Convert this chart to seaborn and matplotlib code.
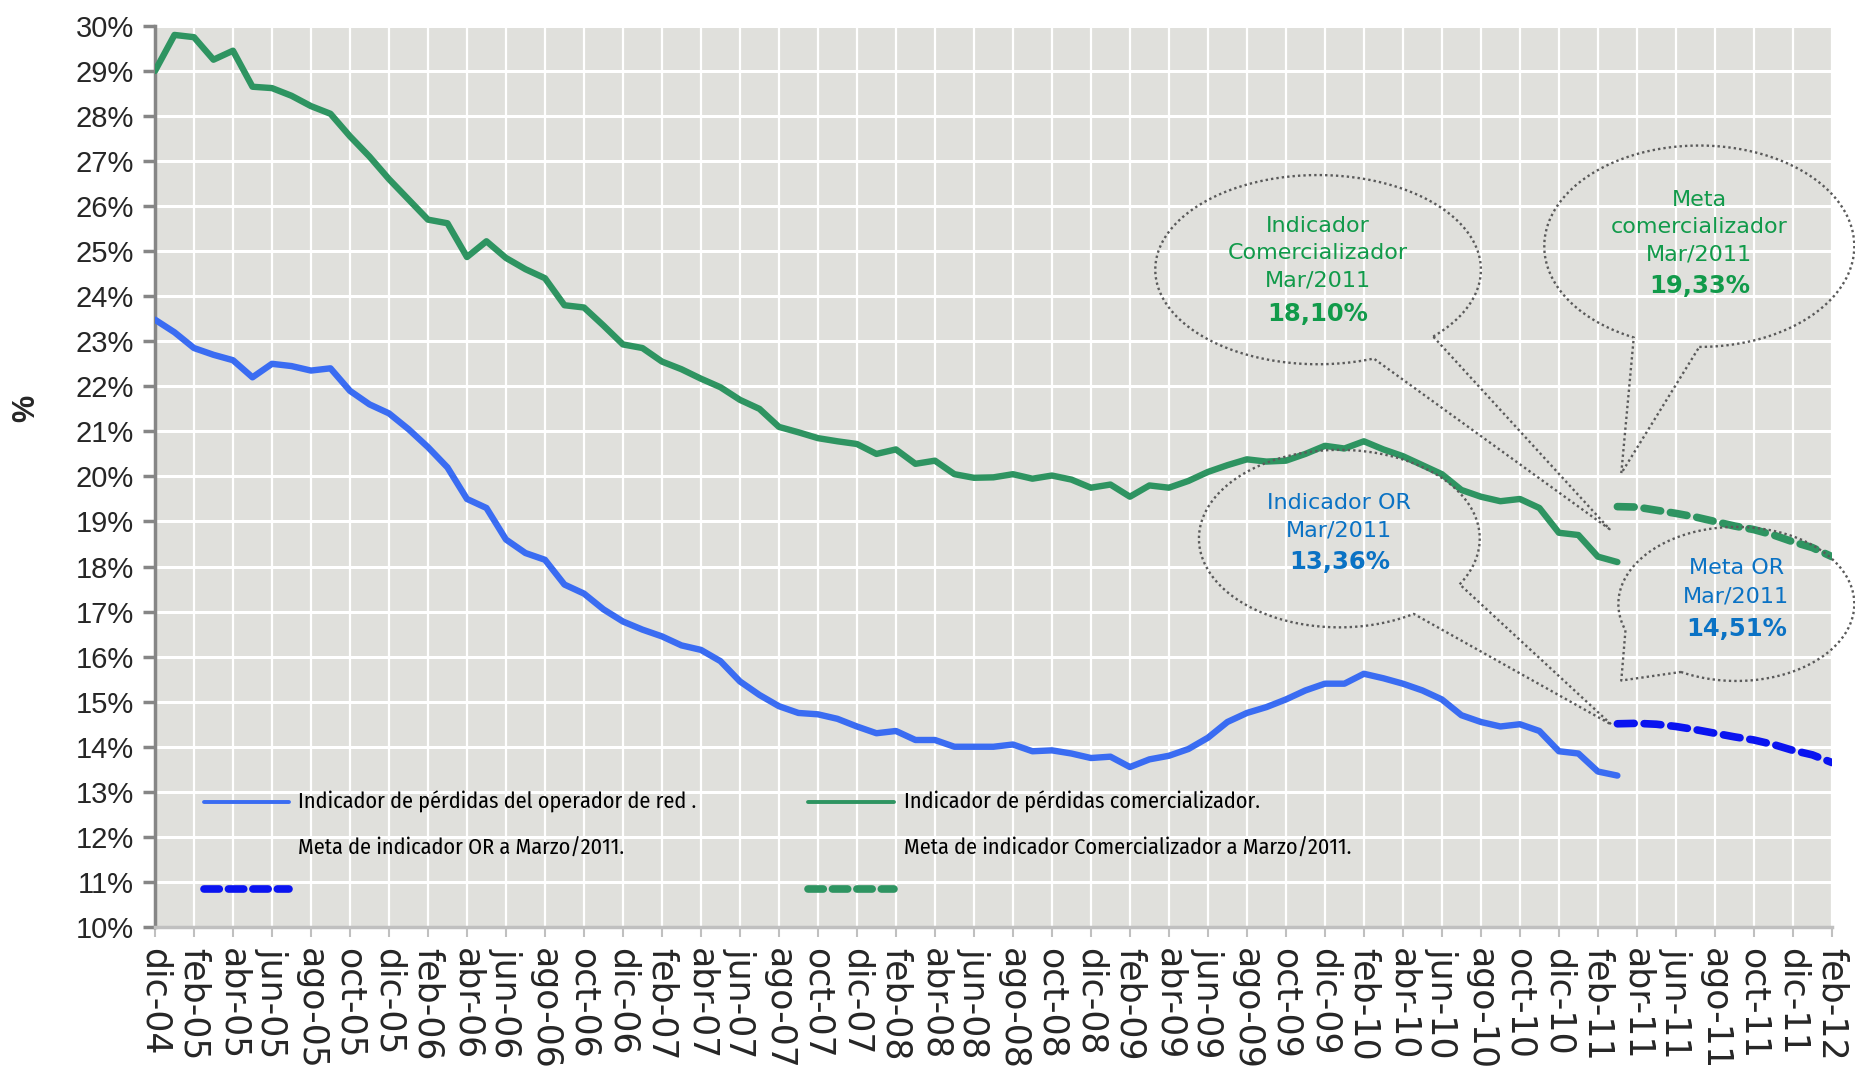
import numpy as np
import pandas as pd
import matplotlib
matplotlib.use('Agg')
import matplotlib.pyplot as plt
from matplotlib.lines import Line2D
import seaborn as sns

# =============================================
# Data, monthly from dic-04
month_names = ['ene', 'feb', 'mar', 'abr', 'may', 'jun', 'jul', 'ago', 'sep', 'oct', 'nov', 'dic']

or_actual = [23.48, 23.2, 22.85, 22.7, 22.58, 22.2, 22.5, 22.45, 22.35, 22.4,
             21.9, 21.6, 21.4, 21.05, 20.65, 20.2, 19.5, 19.3, 18.6, 18.3,
             18.15, 17.6, 17.4, 17.05, 16.78, 16.6, 16.45, 16.25, 16.15, 15.9,
             15.45, 15.15, 14.9, 14.75, 14.72, 14.62, 14.45, 14.3, 14.35, 14.15,
             14.15, 14.0, 14.0, 14.0, 14.05, 13.9, 13.92, 13.85, 13.75, 13.78,
             13.55, 13.72, 13.8, 13.95, 14.2, 14.55, 14.75, 14.88, 15.05, 15.25,
             15.4, 15.4, 15.62, 15.52, 15.4, 15.25, 15.05, 14.7, 14.55, 14.45,
             14.5, 14.35, 13.9, 13.85, 13.45, 13.36]

com_actual = [29.0, 29.8, 29.75, 29.25, 29.45, 28.65, 28.62, 28.45, 28.22, 28.05,
              27.55, 27.1, 26.6, 26.15, 25.7, 25.62, 24.87, 25.22, 24.85, 24.6,
              24.4, 23.8, 23.75, 23.35, 22.93, 22.85, 22.55, 22.38, 22.17, 21.98,
              21.7, 21.5, 21.1, 20.98, 20.85, 20.78, 20.72, 20.5, 20.6, 20.28,
              20.35, 20.05, 19.97, 19.98, 20.05, 19.95, 20.02, 19.93, 19.75, 19.82,
              19.55, 19.8, 19.75, 19.9, 20.1, 20.25, 20.38, 20.33, 20.35, 20.5,
              20.68, 20.62, 20.78, 20.6, 20.45, 20.25, 20.05, 19.7, 19.55, 19.45,
              19.5, 19.3, 18.75, 18.7, 18.22, 18.10]

# targets from mar-11 to feb-12
or_meta = [14.51, 14.52, 14.5, 14.45, 14.38, 14.3, 14.22, 14.15, 14.05, 13.92, 13.82, 13.65]
com_meta = [19.33, 19.32, 19.25, 19.18, 19.1, 19.0, 18.9, 18.82, 18.7, 18.55, 18.42, 18.22]

n_months = 87  # dic-04 .. feb-12
meta_start = len(or_actual) - 1

actual_df = pd.DataFrame({'mes': np.arange(len(or_actual)), 'OR': or_actual, 'COM': com_actual})
meta_df = pd.DataFrame({'mes': np.arange(meta_start, meta_start + len(or_meta)),
                        'OR': or_meta, 'COM': com_meta})

tick_months = list(range(0, n_months, 2))
tick_labels = ['%s-%02d' % (month_names[(11 + m) % 12], (2004 + (11 + m) // 12) % 100)
               for m in tick_months]

# =============================================
# Colours and fonts
blue_line = '#3a6cf2'
blue_meta = '#0a14f0'
green_line = '#2e9461'
green_text = '#119a4a'
blue_text = '#0a72c4'
callout_grey = '#5a5a5a'

sns.set_theme(style='white')
plt.rcParams['font.family'] = ['Liberation Sans', 'DejaVu Sans']
legend_font = ['Fira Sans Condensed', 'DejaVu Sans']

fig = plt.figure(figsize=(18.56, 10.80), dpi=100)
ax = fig.add_axes([0.0835, 0.1417, 0.9035, 0.8343])
ax.set_facecolor('#e0e0dc')

# white grid
for v in range(10, 31):
    ax.axhline(v, color='white', lw=2.2, zorder=1)
for m in tick_months:
    ax.axvline(m, color='white', lw=1.6, zorder=1)

line_kw = dict(lw=4.6, solid_joinstyle='round', solid_capstyle='round', zorder=3)
sns.lineplot(data=actual_df, x='mes', y='OR', color=blue_line, ax=ax, **line_kw)
sns.lineplot(data=actual_df, x='mes', y='COM', color=green_line, ax=ax, **line_kw)
sns.lineplot(data=meta_df, x='mes', y='OR', color=blue_meta, lw=5.5,
             linestyle=(0, (2.2, 1.3)), dash_capstyle='round', ax=ax, zorder=3)
sns.lineplot(data=meta_df, x='mes', y='COM', color=green_line, lw=5.5,
             linestyle=(0, (2.2, 1.3)), dash_capstyle='round', ax=ax, zorder=3)

ax.set_xlim(0, n_months - 1)
ax.set_ylim(10, 30)
ax.set_yticks(range(10, 31))
ax.set_yticklabels(['%d%%' % v for v in range(10, 31)], fontsize=21)
ax.set_xticks(tick_months)
ax.set_xticklabels(tick_labels, rotation=-90, fontsize=25,
                   family=['DejaVu Sans'], va='top', ha='center')
ax.set_xlabel('')
ax.set_ylabel('%', fontsize=22, fontweight='bold')
ax.yaxis.set_label_coords(-0.068, 0.576)

for s in ['top', 'right']:
    ax.spines[s].set_visible(False)
ax.spines['left'].set_color('#868686')
ax.spines['left'].set_linewidth(2.5)
ax.spines['bottom'].set_color('#c0c0c0')
ax.spines['bottom'].set_linewidth(2.5)
ax.tick_params(axis='y', left=True, length=9, width=2.5, color='#868686', pad=6)
ax.tick_params(axis='x', bottom=True, length=7, width=1.5, color='#c0c0c0', pad=8)


# =============================================
# Legend drawn inside the plot area
leg_items = [
    (0.029, 0.0854, blue_line, blue_meta,
     'Indicador de pérdidas del operador de red .', 'Meta de indicador OR a Marzo/2011.'),
    (0.3896, 0.4467, green_line, green_line,
     'Indicador de pérdidas comercializador.', 'Meta de indicador Comercializador a Marzo/2011.'),
]
for x0, xt, c_line, c_meta, txt1, txt2 in leg_items:
    ax.add_line(Line2D([x0, x0 + 0.051], [0.139, 0.139], transform=ax.transAxes,
                       color=c_line, lw=2.8, zorder=3))
    ax.add_line(Line2D([x0, x0 + 0.051], [0.042, 0.042], transform=ax.transAxes,
                       color=c_meta, lw=5.5, ls=(0, (2.0, 1.2)), dash_capstyle='round', zorder=3))
    ax.text(xt, 0.139, txt1, transform=ax.transAxes, fontsize=16, family=legend_font,
            va='center', ha='left', color='black')
    ax.text(xt, 0.0867, txt2, transform=ax.transAxes, fontsize=16, family=legend_font,
            va='center', ha='left', color='black')


# =============================================
# Callouts (dotted ellipses with a pointer)
def callout(cx, cy, w, h, gap, tip, lines, color):
    t0, t1 = np.radians(gap[0]), np.radians(gap[1])
    t = np.linspace(t1, t0 + 2 * np.pi, 300)
    xs = cx + w / 2 * np.cos(t)
    ys = cy + h / 2 * np.sin(t)
    xs = np.r_[xs, tip[0], xs[0]]
    ys = np.r_[ys, tip[1], ys[0]]
    ax.plot(xs, ys, ls=(0, (1, 1.3)), color=callout_grey, lw=1.7, clip_on=False, zorder=4)
    for txt, y, bold in lines:
        ax.text(cx, y, txt, ha='center', va='center', color=color, family=['DejaVu Sans'],
                fontsize=17.5 if bold else 16, fontweight='bold' if bold else 'normal', zorder=5)


callout(59.65, 24.59, 16.7, 4.2, (-70, -45), (74.6, 18.83),
        [('Indicador', 25.56, False), ('Comercializador', 24.95, False),
         ('Mar/2011', 24.35, False), ('18,10%', 23.61, True)], green_text)
callout(79.2, 25.11, 15.9, 4.47, (-115, -90), (75.2, 20.07),
        [('Meta', 26.14, False), ('comercializador', 25.53, False),
         ('Mar/2011', 24.93, False), ('19,33%', 24.22, True)], green_text)
callout(60.74, 18.62, 14.4, 3.94, (-58, -31), (74.7, 14.49),
        [('Indicador OR', 19.41, False), ('Mar/2011', 18.8, False), ('13,36%', 18.09, True)],
        blue_text)
callout(81.1, 17.17, 12.1, 3.42, (-160, -118), (75.2, 15.47),
        [('Meta OR', 17.96, False), ('Mar/2011', 17.33, False), ('14,51%', 16.62, True)],
        blue_text)

plt.savefig('out.png', dpi=100)
